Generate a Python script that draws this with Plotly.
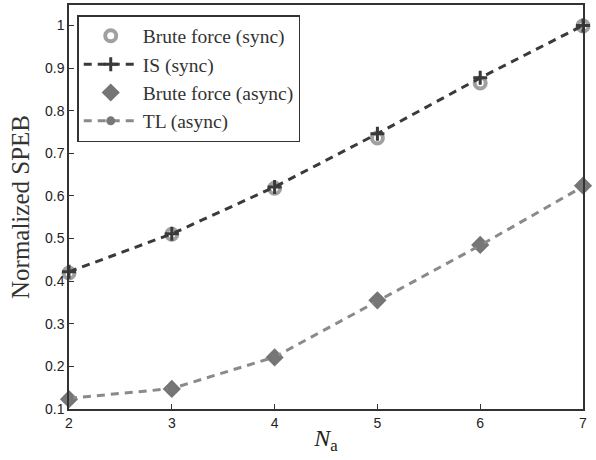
import plotly.graph_objects as go

n_a = [2, 3, 4, 5, 6, 7]
brute_sync = [0.419, 0.51, 0.618, 0.736, 0.865, 0.999]
is_sync = [0.422, 0.511, 0.621, 0.746, 0.877, 1.0]
brute_async = [0.123, 0.147, 0.221, 0.355, 0.485, 0.624]
tl_async = [0.125, 0.148, 0.222, 0.354, 0.484, 0.622]

names = ["Brute force (sync)", "IS (sync)", "Brute force (async)", "TL (async)"]

fig = go.Figure()
fig.add_trace(go.Scatter(
    x=n_a, y=brute_sync, name=names[0], mode="markers", cliponaxis=False,
    marker=dict(symbol="circle-open", size=11, color="#a0a0a0", line=dict(width=4, color="#a0a0a0")),
))
fig.add_trace(go.Scatter(
    x=n_a, y=is_sync, name=names[1], mode="lines+markers", cliponaxis=False,
    line=dict(color="#3a3a3a", width=3, dash="8px,6px"),
    marker=dict(symbol="cross-thin", size=10, color="#3a3a3a", line=dict(width=3, color="#3a3a3a")),
))
fig.add_trace(go.Scatter(
    x=n_a, y=brute_async, name=names[2], mode="markers", cliponaxis=False,
    marker=dict(symbol="diamond", size=14, color="#757575", line=dict(width=0)),
))
fig.add_trace(go.Scatter(
    x=n_a, y=tl_async, name=names[3], mode="lines+markers", cliponaxis=False,
    line=dict(color="#8a8a8a", width=3, dash="8px,6px"),
    marker=dict(symbol="circle", size=9, color="#777777"),
))

axis_common = dict(
    showline=True, linecolor="#333333", linewidth=1.5, mirror=True,
    ticks="inside", ticklen=5, tickcolor="#333333", tickwidth=1,
    showgrid=False, zeroline=False, automargin=False,
    tickfont=dict(family="Liberation Sans, Arial, sans-serif", size=14, color="#222222"),
)

fig.update_layout(
    width=596, height=460,
    margin=dict(l=69, r=13, t=5, b=51),
    paper_bgcolor="white", plot_bgcolor="white",
    showlegend=True,
    legend=dict(
        x=0.016, y=0.975, xanchor="left", yanchor="top",
        bgcolor="white", bordercolor="#333333", borderwidth=1.5,
        font=dict(family="Liberation Serif, Times New Roman, serif", size=19.5, color="#333333"),
        tracegroupgap=0, itemwidth=54,
    ),
    xaxis=dict(
        range=[2, 7], tickvals=[2, 3, 4, 5, 6, 7],
        title=dict(text="<i>N</i><sub>a</sub>", standoff=0,
                   font=dict(family="Liberation Serif, Times New Roman, serif", size=24, color="#222222")),
        **axis_common,
    ),
    yaxis=dict(
        range=[0.1, 1.048], tickvals=[0.1, 0.2, 0.3, 0.4, 0.5, 0.6, 0.7, 0.8, 0.9, 1.0],
        ticktext=["0.1", "0.2", "0.3", "0.4", "0.5", "0.6", "0.7", "0.8", "0.9", "1"],
        title=dict(text="Normalized SPEB", standoff=8,
                   font=dict(family="Liberation Serif, Times New Roman, serif", size=25, color="#333333")),
        **axis_common,
    ),
)

fig.write_html("out.html", config={"displayModeBar": False},
               post_script="document.body.style.margin='0';")
